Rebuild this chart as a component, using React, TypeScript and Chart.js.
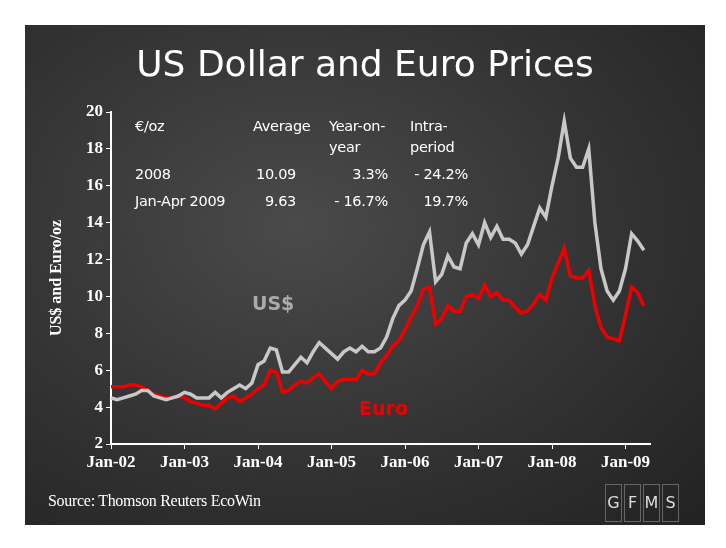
import React, { useEffect, useRef } from "react";
import { Chart, registerables } from "chart.js";
Chart.register(...registerables);

const yearLabels = ["Jan-02", "Jan-03", "Jan-04", "Jan-05", "Jan-06", "Jan-07", "Jan-08", "Jan-09"];
const usd = [
  4.5, 4.4, 4.5, 4.6, 4.7, 4.9, 4.9, 4.6, 4.5, 4.4, 4.5, 4.6,
  4.8, 4.7, 4.5, 4.5, 4.5, 4.8, 4.5, 4.8, 5.0, 5.2, 5.0, 5.3,
  6.3, 6.5, 7.2, 7.1, 5.9, 5.9, 6.3, 6.7, 6.4, 7.0, 7.5, 7.2,
  6.9, 6.6, 7.0, 7.2, 7.0, 7.3, 7.0, 7.0, 7.2, 7.8, 8.8, 9.5,
  9.8, 10.3, 11.5, 12.8, 13.5, 10.8, 11.2, 12.2, 11.6, 11.5, 12.9, 13.4,
  12.8, 14.0, 13.2, 13.8, 13.1, 13.1, 12.9, 12.3, 12.8, 13.8, 14.8, 14.3,
  16.0, 17.5, 19.5, 17.5, 17.0, 17.0, 18.0, 14.0, 11.5, 10.3, 9.8, 10.3,
  11.5, 13.4, 13.0, 12.5,
];
const eur = [
  5.1, 5.1, 5.1, 5.2, 5.2, 5.1, 4.9, 4.7, 4.6, 4.5, 4.5, 4.6,
  4.5, 4.3, 4.2, 4.1, 4.1, 3.9, 4.2, 4.5, 4.6, 4.3, 4.5, 4.7,
  5.0, 5.2, 6.0, 5.9, 4.8, 4.9, 5.2, 5.4, 5.3, 5.6, 5.8, 5.4,
  5.0, 5.4, 5.5, 5.5, 5.5, 6.0, 5.8, 5.8, 6.4, 6.8, 7.3, 7.6,
  8.2, 8.9, 9.5, 10.4, 10.5, 8.5, 8.8, 9.5, 9.2, 9.2, 10.0, 10.1,
  9.9, 10.6, 10.0, 10.2, 9.8, 9.8, 9.4, 9.1, 9.2, 9.6, 10.1, 9.8,
  11.0, 11.8, 12.6, 11.1, 11.0, 11.0, 11.4, 9.5, 8.3, 7.8, 7.7, 7.6,
  9.0, 10.5, 10.2, 9.5,
];
const tableRows = [
  ["€/oz", "Average", "Year-on-", "Intra-"],
  ["", "", "year", "period"],
  ["2008", "10.09", "3.3%", "- 24.2%"],
  ["Jan-Apr 2009", "9.63", "- 16.7%", "19.7%"],
];

export default function App() {
  const ref = useRef<HTMLCanvasElement>(null);
  useEffect(() => {
    const chart = new Chart(ref.current!, {
      type: "line",
      data: {
        datasets: [
          { label: "US$", data: usd.map((v, i) => ({ x: i, y: v })), borderColor: "#c8c8c8", borderWidth: 3.5, pointRadius: 0, tension: 0 },
          { label: "Euro", data: eur.map((v, i) => ({ x: i, y: v })), borderColor: "#ee0000", borderWidth: 3.5, pointRadius: 0, tension: 0 },
        ],
      },
      options: {
        animation: false,
        responsive: false,
        layout: { padding: { left: 22, right: 55, top: 87, bottom: 41 } },
        plugins: { legend: { display: false }, tooltip: { enabled: false } },
        scales: {
          x: {
            type: "linear", min: 0, max: 88,
            afterFit: (s: any) => { s.height = 40; },
            afterBuildTicks: (s: any) => { s.ticks = yearLabels.map((_, i) => ({ value: i * 12 })); },
            ticks: { autoSkip: false, maxRotation: 0, color: "#fff", font: { family: "Liberation Serif", size: 17, weight: "bold" }, callback: (v: any) => yearLabels[Math.round(v / 12)] },
            grid: { display: true, drawOnChartArea: false, color: "#fff", tickLength: 5 },
            border: { color: "#fff", width: 2 },
          },
          y: {
            min: 2, max: 20,
            afterFit: (s: any) => { s.width = 64; },
            ticks: { stepSize: 2, color: "#fff", font: { family: "Liberation Serif", size: 17, weight: "bold" } },
            grid: { display: true, drawOnChartArea: false, color: "#fff", tickLength: 5 },
            border: { color: "#fff", width: 2 },
            title: { display: true, text: "US$ and Euro/oz", color: "#fff", font: { family: "Liberation Serif", size: 16, weight: "bold" }, padding: 0 },
          },
        },
      },
    });
    return () => chart.destroy();
  }, []);
  const lefts = [135, 253, 329, 410];
  const rights = [0, 296, 388, 468];
  const tops = [118, 139, 166, 193];
  return (
    <div style={{ position: "fixed", left: 0, top: 0, width: 726, height: 548, background: "#fff", fontFamily: "'DejaVu Sans'" }}>
      <div style={{ position: "absolute", left: 25, top: 25, width: 680, height: 500, background: "radial-gradient(ellipse at 40% 40%, #4a4a4a 0%, #333 55%, #222 100%)" }} />
      <canvas ref={ref} width={680} height={500} style={{ position: "absolute", left: 25, top: 25 }} />
      <div style={{ position: "absolute", left: 25, width: 680, top: 43, textAlign: "center", color: "#fff", fontSize: 36 }}>US Dollar and Euro Prices</div>
      {tableRows.map((row, r) => row.map((t, c) => {
        const right = r >= 2 && c > 0;
        const pos: any = right ? { left: rights[c] - 80, width: 80, textAlign: "right" } : { left: lefts[c] };
        return <div key={r + "-" + c} style={{ position: "absolute", top: tops[r], color: "#fff", fontSize: 14.5, whiteSpace: "nowrap", letterSpacing: -0.3, ...pos }}>{t}</div>;
      }))}
      <div style={{ position: "absolute", left: 252, top: 292, color: "#aaa", fontSize: 19, fontWeight: "bold" }}>US$</div>
      <div style={{ position: "absolute", left: 359, top: 397, color: "#ee0000", fontSize: 19, fontWeight: "bold" }}>Euro</div>
      <div style={{ position: "absolute", left: 48, top: 492, color: "#fff", fontSize: 16, fontFamily: "'Liberation Serif'", letterSpacing: -0.3 }}>Source: Thomson Reuters EcoWin</div>
      <div style={{ position: "absolute", left: 605, top: 484, display: "flex", gap: 2 }}>
        {["G", "F", "M", "S"].map((l) => (
          <div key={l} style={{ width: 15, height: 36, border: "1px solid #666", color: "#ddd", fontSize: 16, textAlign: "center", lineHeight: "36px" }}>{l}</div>
        ))}
      </div>
    </div>
  );
}
